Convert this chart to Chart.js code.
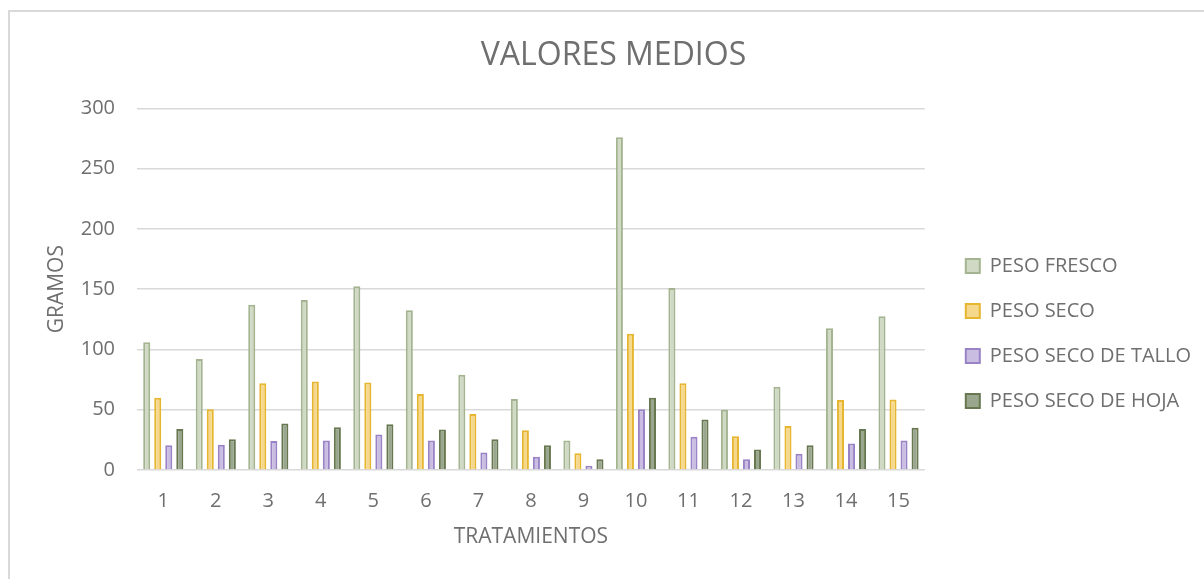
<!DOCTYPE html>
<html>
<head>
<meta charset="utf-8">
<script src="https://cdn.jsdelivr.net/npm/chart.js@4/dist/chart.umd.min.js"></script>
<style>
  html, body { margin: 0; padding: 0; background: #fff; overflow: hidden; }
  #wrap { position: relative; width: 1204px; height: 579px; }
  #frame { position: absolute; left: 8px; top: 10px; width: 1300px; height: 700px;
           border-left: 2px solid #d9d9d9; border-top: 2px solid #d9d9d9; }
  #chart { position: absolute; left: 0; top: 0; }
</style>
</head>
<body>
<div id="wrap">
  <div id="frame"></div>
  <canvas id="chart" width="1204" height="579"></canvas>
</div>
<script>
const tratamientos = ['1', '2', '3', '4', '5', '6', '7', '8', '9', '10', '11', '12', '13', '14', '15'];

const pesoFresco     = [106, 92, 137, 141, 152.5, 132.5, 79, 59, 24.5, 276, 151, 50, 69, 117.5, 127.5];
const pesoSeco       = [60, 50.5, 72, 73.5, 72.5, 63, 46.5, 33, 14, 113, 72, 28, 36.5, 58, 58.5];
const pesoSecoTallo  = [20.5, 21, 24, 24.5, 29.5, 24.5, 14.5, 11, 3.5, 50.5, 27.5, 9, 13.5, 22, 24.5];
const pesoSecoHoja   = [34, 25.5, 38.5, 35.5, 38, 33.5, 25.5, 20.5, 9, 60, 42, 17, 20.5, 34, 35];

const yTicks = [0, 50, 100, 150, 200, 250, 300];

const textColor = '#6f6f6f';
const gridColor = '#d9d9d9';
const fontFamily = '"Open Sans", "Noto Sans", sans-serif';

// fixed plot box: left edge and bottom of the value area
const AREA_LEFT = 137;
const AREA_BOTTOM = 470;

function serie(label, data, fill, border) {
  return {
    label: label,
    data: data,
    backgroundColor: fill,
    borderColor: border,
    borderWidth: 2,
    borderSkipped: 'bottom',
    categoryPercentage: 0.84,
    barPercentage: 0.64
  };
}

// nudge the legend block beside the plot, and center the title on the frame
const blockShift = {
  id: 'blockShift',
  afterLayout(chart) {
    const lg = chart.legend;
    lg.left += 16; lg.right += 16;
    lg.top += 44; lg.bottom += 44;
    const tb = chart.titleBlock;
    tb.left += 21; tb.right += 21;
  }
};

new Chart(document.getElementById('chart'), {
  type: 'bar',
  data: {
    labels: tratamientos,
    datasets: [
      serie('PESO FRESCO', pesoFresco, '#cfd9c4', '#a4b491'),
      serie('PESO SECO', pesoSeco, '#f5d88c', '#e6b630'),
      serie('PESO SECO DE TALLO', pesoSecoTallo, '#c9bde2', '#9983c6'),
      serie('PESO SECO DE HOJA', pesoSecoHoja, '#9aa78e', '#67774f')
    ]
  },
  options: {
    responsive: false,
    animation: false,
    devicePixelRatio: 1,
    layout: { padding: { left: 0, right: 19, top: 0, bottom: 0 } },
    plugins: {
      title: {
        display: true,
        text: 'VALORES MEDIOS',
        color: textColor,
        font: { family: fontFamily, size: 32, weight: 'normal' },
        padding: { top: 37, bottom: 33 }
      },
      legend: {
        display: true,
        position: 'right',
        align: 'center',
        labels: {
          color: textColor,
          font: { family: fontFamily, size: 20 },
          boxWidth: 14,
          boxHeight: 14,
          padding: 25
        }
      },
      tooltip: { enabled: false }
    },
    scales: {
      x: {
        grid: { display: false, drawTicks: false },
        border: { display: false },
        ticks: {
          color: textColor,
          font: { family: fontFamily, size: 20 },
          padding: 19,
          maxRotation: 0
        },
        title: {
          display: true,
          text: 'TRATAMIENTOS',
          color: textColor,
          font: { family: fontFamily, size: 21 },
          padding: { top: 0, bottom: 29 }
        },
        afterFit(scale) { scale.height = 579 - AREA_BOTTOM; }
      },
      y: {
        min: 0,
        max: 300,
        afterBuildTicks(scale) { scale.ticks = yTicks.map(v => ({ value: v })); },
        grid: { color: gridColor, lineWidth: 1.5, drawTicks: false },
        border: { display: false },
        ticks: {
          color: textColor,
          font: { family: fontFamily, size: 20 },
          padding: 22
        },
        title: {
          display: true,
          text: 'GRAMOS',
          color: textColor,
          font: { family: fontFamily, size: 21 },
          padding: { top: 44, bottom: 0 }
        },
        afterFit(scale) { scale.width = AREA_LEFT; }
      }
    }
  },
  plugins: [blockShift]
});
</script>
</body>
</html>
